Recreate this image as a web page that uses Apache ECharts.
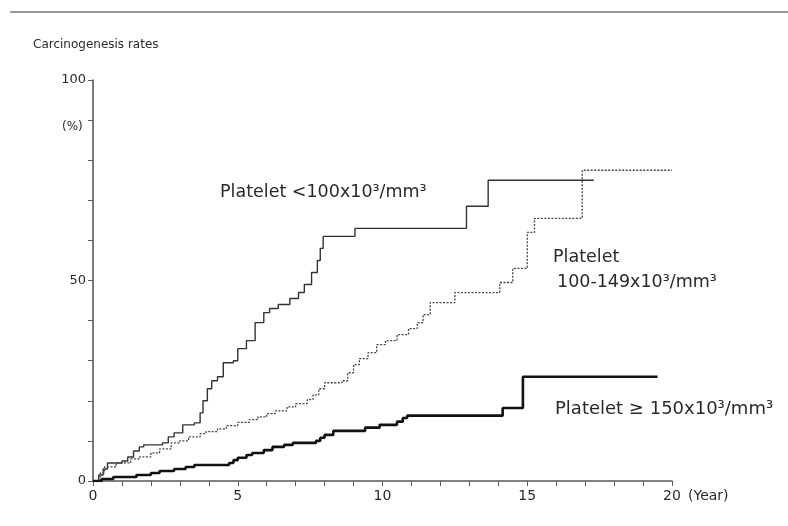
<!DOCTYPE html>
<html>
<head>
<meta charset="utf-8">
<script src="https://cdn.jsdelivr.net/npm/echarts@6/dist/echarts.min.js"></script>
<style>html,body{margin:0;padding:0;background:#fff}#c{width:788px;height:526px}</style>
</head>
<body>
<div id="c"></div>
<script>
// Kaplan-Meier style curves: [year, cumulative rate %]
var lowPlatelet = [[0,0],[0.2,1.5],[0.35,3],[0.5,4.5],[1.0,5],[1.2,6],[1.4,7.5],[1.6,8.5],[1.75,9],[2.4,9.5],[2.6,11],[2.8,12],[3.1,14],[3.5,14.5],[3.7,17],[3.8,20],[3.95,23],[4.1,25],[4.3,26],[4.5,29.5],[4.85,30],[5.0,33],[5.3,35],[5.6,39.5],[5.9,42],[6.1,43],[6.4,44],[6.8,45.5],[7.1,47],[7.3,49],[7.55,52],[7.75,55],[7.85,58],[7.95,61],[9.05,63],[12.9,68.5],[13.65,75],[17.3,75]];
var midPlatelet = [[0,0],[0.25,2],[0.4,3.5],[0.8,4.5],[1.3,5.5],[1.6,6],[2.0,7],[2.3,8],[2.7,9.5],[3.0,10],[3.3,11],[3.7,11.8],[3.9,12.3],[4.3,13],[4.6,13.8],[5.0,14.6],[5.4,15.3],[5.7,16],[6.0,16.8],[6.3,17.5],[6.7,18.5],[7.0,19.3],[7.4,20.3],[7.6,21.5],[7.8,23],[8.0,24.5],[8.6,25],[8.8,27],[9.0,29],[9.2,30.5],[9.5,32],[9.8,34],[10.1,35],[10.5,36.5],[10.9,38],[11.2,39.5],[11.4,41.5],[11.65,44.5],[12.5,47],[14.05,49.5],[14.5,53],[15.0,62],[15.25,65.5],[16.9,77.5],[20,77.5]];
var highPlatelet = [[0,0],[0.3,0.5],[0.7,1],[1.5,1.5],[2.0,2],[2.3,2.5],[2.8,3],[3.2,3.5],[3.5,4],[4.7,4.5],[4.85,5.2],[5.0,5.8],[5.3,6.5],[5.5,7],[5.9,7.7],[6.2,8.5],[6.6,9],[6.9,9.5],[7.7,10],[7.85,10.8],[8.0,11.5],[8.3,12.5],[9.4,13.3],[9.9,14],[10.5,14.8],[10.7,15.7],[10.85,16.3],[14.15,18.2],[14.85,26],[19.5,26]];
var xTickLabels = [0,5,10,15,20];
var yTickLabels = [0,50,100];

var FONT = '"DejaVu Sans", sans-serif';
var TXT = '#2a2a2a';
var chart = echarts.init(document.getElementById('c'));
var axisCol = '#5a5a5a';
chart.setOption({
  animation: false,
  backgroundColor: '#fff',
  grid: {left: 93, right: 116, top: 80, bottom: 45, containLabel: false},
  xAxis: {
    type: 'value', min: 0, max: 20, interval: 1,
    axisLine: {lineStyle: {color: axisCol, width: 1.6}},
    axisTick: {show: true, length: 5, lineStyle: {color: axisCol}},
    splitLine: {show: false},
    axisLabel: {color: TXT, fontFamily: FONT, fontSize: 14, margin: 8,
      formatter: function(v){ return xTickLabels.indexOf(v) >= 0 ? String(v) : ''; }}
  },
  yAxis: {
    type: 'value', min: 0, max: 100, interval: 10,
    axisLine: {show: true, lineStyle: {color: axisCol, width: 1.6}},
    axisTick: {show: true, length: 5, lineStyle: {color: axisCol}},
    splitLine: {show: false},
    axisLabel: {color: TXT, fontFamily: FONT, fontSize: 13, margin: 7,
      formatter: function(v){ return yTickLabels.indexOf(v) >= 0 ? String(v) : ''; }}
  },
  series: [
    {type: 'line', step: 'end', data: lowPlatelet, symbol: 'none',
     lineStyle: {color: '#333', width: 1.4, type: 'solid'}},
    {type: 'line', step: 'end', data: midPlatelet, symbol: 'none',
     lineStyle: {color: '#444', width: 1.3, type: [2, 1.5]}},
    {type: 'line', step: 'end', data: highPlatelet, symbol: 'none',
     lineStyle: {color: '#111', width: 2.6, type: 'solid'}}
  ],
  graphic: [
    {type: 'line', shape: {x1: 10, y1: 12, x2: 788, y2: 12}, style: {stroke: '#999', lineWidth: 2}},
    {type: 'text', left: 33, top: 39, style: {text: 'Carcinogenesis rates', font: '12px ' + FONT, fill: TXT}},
    {type: 'text', left: 62, top: 121, style: {text: '(%)', font: '12px ' + FONT, fill: TXT}},
    {type: 'text', left: 688, top: 489, style: {text: '(Year)', font: '14px ' + FONT, fill: TXT}},
    {type: 'text', left: 220, top: 183, style: {text: 'Platelet <100x10³/mm³', font: '17.5px ' + FONT, fill: TXT}},
    {type: 'text', left: 553, top: 248, style: {text: 'Platelet', font: '17.5px ' + FONT, fill: TXT}},
    {type: 'text', left: 557, top: 273, style: {text: '100-149x10³/mm³', font: '17.5px ' + FONT, fill: TXT}},
    {type: 'text', left: 555, top: 400, style: {text: 'Platelet ≥ 150x10³/mm³', font: '18px ' + FONT, fill: TXT}}
  ]
});
</script>
</body>
</html>
